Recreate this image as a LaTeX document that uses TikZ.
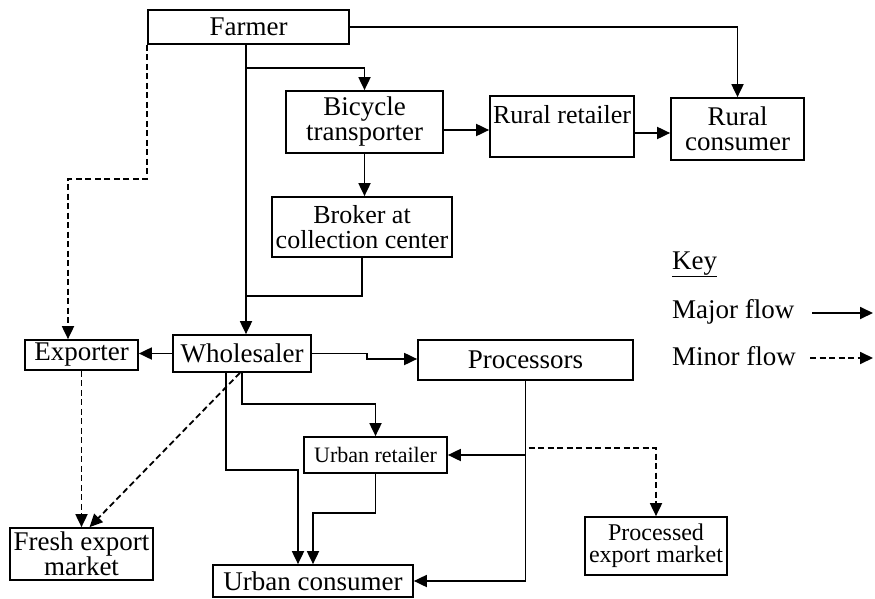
\documentclass[tikz,border=0pt]{standalone}
\usepackage{fontspec}
\setmainfont{Liberation Serif}
\usetikzlibrary{arrows.meta}

\begin{document}
\begin{tikzpicture}[x=1pt, y=-1pt,
    box/.style={draw, line width=1.7pt, inner sep=0pt, align=center,
                font=\fontsize{27}{25}\selectfont},
    major/.style={line width=1.8pt, -{Triangle[length=13pt,width=12pt]}},
    minor/.style={major, dash pattern=on 6pt off 3.5pt},
    link/.style={line width=1.8pt}]
    \useasboundingbox (0,0) rectangle (875,599);

    \node[box, minimum width=201, minimum height=34] (farmer) at (248.5,27) {Farmer};
    \node[box, minimum width=157, minimum height=62] (bike) at (364.5,122) {Bicycle\\transporter};
    \node[box, minimum width=180, minimum height=60, font=\fontsize{26}{25}\selectfont] (broker) at (362,227) {Broker at\\collection center};
    \node[box, minimum width=144, minimum height=61, font=\fontsize{26}{25}\selectfont] (ruralret) at (562,126.5) {Rural retailer\\\mbox{}};
    \node[box, minimum width=133, minimum height=62] (ruralcon) at (737.5,129) {Rural\\consumer};
    \node[box, minimum width=113, minimum height=30] (exporter) at (81.5,355) {Exporter};
    \node[box, minimum width=138, minimum height=37] (wholesaler) at (242,353.5) {Wholesaler};
    \node[box, minimum width=215, minimum height=40] (processors) at (525.5,360) {Processors};
    \node[box, minimum width=143, minimum height=36, font=\fontsize{22}{21}\selectfont] (urbanret) at (375.5,455) {Urban retailer};
    \node[box, minimum width=143, minimum height=52] (freshexp) at (81.5,554) {Fresh export\\market};
    \node[box, minimum width=200, minimum height=32] (urbancon) at (313,581) {Urban consumer};
    \node[box, minimum width=142, minimum height=58, font=\fontsize{24}{22}\selectfont] (procexp) at (656,546) {Processed\\export market};

    \coordinate (trunk) at (246,0);

    % major flows
    \draw[major] (farmer.east) -| (ruralcon.north);
    \draw[major] (farmer.south -| trunk) -- (wholesaler.north -| trunk);
    \draw[major] (trunk |- 0,68) -| (bike.north);
    \draw[major] (bike.east |- 0,130) -- (ruralret.west |- 0,130);
    \draw[major] (ruralret.east |- 0,133) -- (ruralcon.west |- 0,133);
    \draw[major] (bike.south) -- (broker.north -| bike.south);
    \draw[link] (broker.south) |- (trunk |- 0,296);
    \draw[major] (wholesaler.west) -- (exporter.east |- wholesaler.west);
    \draw[major] (wholesaler.east) -| (367,359) -- (processors.west |- 0,359);
    \draw[major] ([xshift=-16pt]wholesaler.south) |- (298,470) -- ([xshift=-15pt]urbancon.north);
    \draw[major] (wholesaler.south) |- ([yshift=32pt]urbanret.north) -- (urbanret.north);
    \draw[major] (urbanret.south) -- ++(0,39) -| (urbancon.north);
    \draw[major] (processors.south) |- (urbancon.east);
    \draw[major] (processors.south |- urbanret.east) -- (urbanret.east);

    % minor flows
    \draw[minor] (farmer.south west) -- (farmer.south west |- 0,179) -| ([xshift=-13.5pt]exporter.north);
    \draw[minor] (exporter.south) -- (freshexp.north -| exporter.south);
    \draw[minor] ([xshift=-2pt]wholesaler.south) -- ([xshift=8pt]freshexp.north);
    \draw[minor] ([xshift=3pt]processors.south |- 0,448) -| (procexp.north);

    % key
    \node[font=\fontsize{27}{25}\selectfont, anchor=base west, inner sep=0pt] (key) at (672,269) {\underline{Key}};
    \node[font=\fontsize{27}{25}\selectfont, anchor=base west, inner sep=0pt] (majorkey) at (672,318) {Major flow};
    \node[font=\fontsize{27}{25}\selectfont, anchor=base west, inner sep=0pt] (minorkey) at (672,365) {Minor flow};
    \coordinate (majorend) at (873,313);
    \coordinate (minorend) at (873,358);
    \draw[major] (812,0 |- majorend) -- (majorend);
    \draw[minor] (810,0 |- minorend) -- (minorend);
\end{tikzpicture}
\end{document}
